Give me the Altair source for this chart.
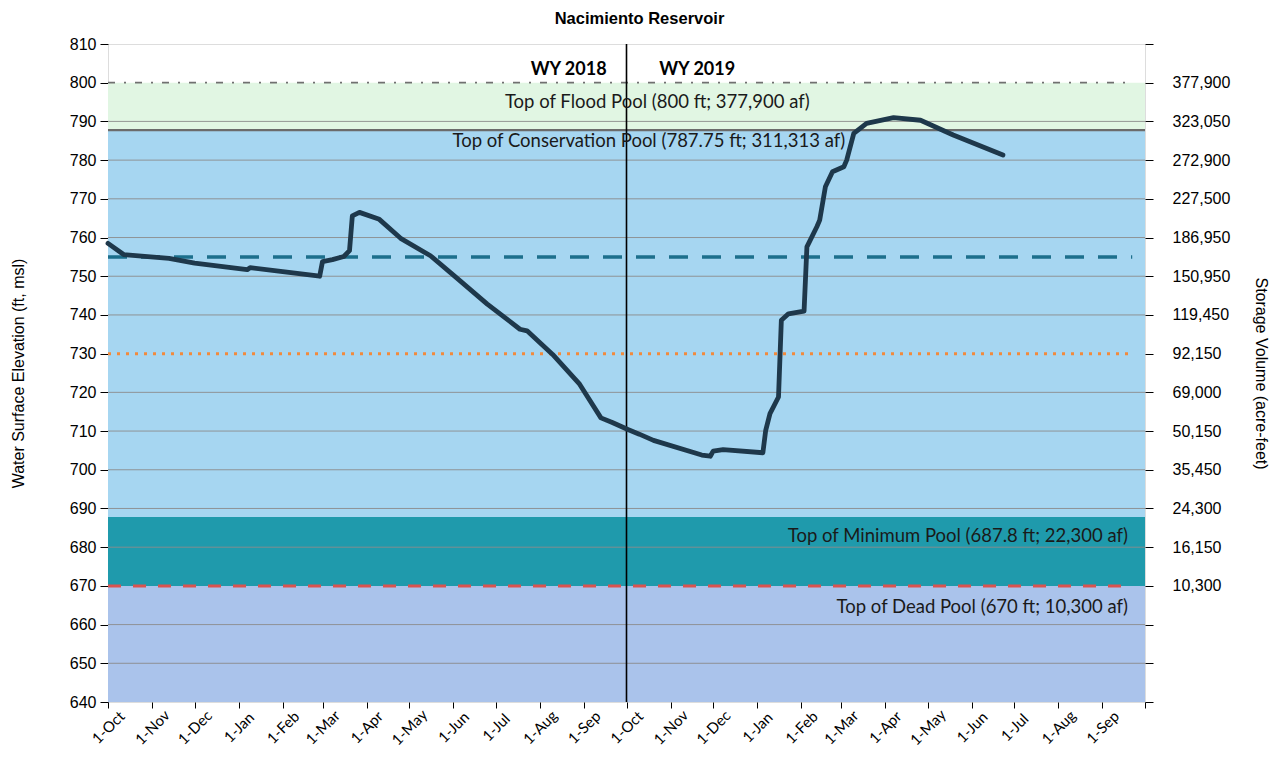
import altair as alt
import pandas as pd

# ---------------- data ----------------
chart_title = "Nacimiento Reservoir"

obs_dates = [
    "2017-10-01", "2017-10-12", "2017-11-13", "2017-12-01", "2018-01-07", "2018-01-09",
    "2018-02-01", "2018-02-27", "2018-03-01", "2018-03-08", "2018-03-16", "2018-03-20",
    "2018-03-22", "2018-03-27", "2018-04-10", "2018-04-25", "2018-05-16", "2018-06-03",
    "2018-06-25", "2018-07-18", "2018-07-23", "2018-08-10", "2018-08-29", "2018-09-13",
    "2018-09-21", "2018-10-02", "2018-10-10", "2018-10-20", "2018-11-23", "2018-11-29",
    "2018-12-01", "2018-12-08", "2019-01-05", "2019-01-07", "2019-01-10", "2019-01-16",
    "2019-01-18", "2019-01-23", "2019-02-03", "2019-02-05", "2019-02-12", "2019-02-14",
    "2019-02-18", "2019-02-23", "2019-03-03", "2019-03-05", "2019-03-10", "2019-03-19",
    "2019-04-07", "2019-04-26", "2019-05-19", "2019-06-23",
]
obs_elev = [
    758.5, 755.6, 754.6, 753.4, 751.7, 752.2,
    751.2, 750.0, 753.8, 754.3, 755.1, 756.6,
    765.6, 766.5, 764.7, 759.8, 755.3, 749.7,
    742.8, 736.3, 735.9, 729.8, 722.1, 713.4,
    712.2, 710.4, 709.2, 707.6, 703.8, 703.5,
    704.8, 705.2, 704.4, 710.2, 714.5, 718.8,
    738.6, 740.3, 741.0, 757.6, 762.8, 764.5,
    773.1, 777.0, 778.3, 780.0, 786.9, 789.5,
    791.0, 790.3, 786.5, 781.3,
]

domain_start = "2017-10-01"
domain_end = "2019-10-01"
wy_split = "2018-10-01"
ref_line_end = "2019-09-22"

band_names = ["Dead Pool", "Minimum Pool", "Conservation Pool", "Flood Pool"]
band_bottom = [640, 670, 687.8, 787.75]
band_top = [670, 687.8, 787.75, 800]
band_colors = ["#aac3eb", "#1f9aac", "#a6d6f1", "#e1f6e3"]

grid_levels = [650, 660, 680, 690, 700, 710, 720, 740, 750, 760, 770, 780, 790]
left_ticks = [640, 650, 660, 670, 680, 690, 700, 710, 720, 730, 740, 750, 760, 770, 780, 790, 800, 810]
right_tick_elev = [800, 790, 780, 770, 760, 750, 740, 730, 720, 710, 700, 690, 680, 670]
right_tick_storage = ["377,900", "323,050", "272,900", "227,500", "186,950", "150,950", "119,450",
                      "92,150", "69,000", "50,150", "35,450", "24,300", "16,150", "10,300"]

x_tick_dates = [
    "2017-10-01", "2017-11-01", "2017-12-01", "2018-01-01", "2018-02-01", "2018-03-01",
    "2018-04-01", "2018-05-01", "2018-06-01", "2018-07-01", "2018-08-01", "2018-09-01",
    "2018-10-01", "2018-11-01", "2018-12-01", "2019-01-01", "2019-02-01", "2019-03-01",
    "2019-04-01", "2019-05-01", "2019-06-01", "2019-07-01", "2019-08-01", "2019-09-01",
    "2019-10-01",
]

flood_top = 800
conservation_top = 787.75
target_level = 755
orange_level = 730
dead_top = 670

pool_label_text = ["Top of Flood Pool (800 ft; 377,900 af)",
                   "Top of Conservation Pool (787.75 ft; 311,313 af)",
                   "Top of Minimum Pool (687.8 ft; 22,300 af)",
                   "Top of Dead Pool (670 ft; 10,300 af)"]
pool_label_date = ["2019-02-07", "2019-03-04", "2019-09-19", "2019-09-19"]
pool_label_elev = [795, 785, 683, 664.5]

wy_label_text = ["WY 2018", "WY 2019"]
wy_label_date = ["2018-09-17", "2018-10-24"]
wy_label_elev = [803.2, 803.2]

# ---------------- helpers ----------------
def dt(s):
    y, m, d = (int(v) for v in s.split("-"))
    return alt.DateTime(year=y, month=m, date=d, utc=True)

xscale = alt.Scale(type="utc", domain=[dt(domain_start), dt(domain_end)])
yscale = alt.Scale(domain=[640, 810], nice=False, zero=False)

xaxis = alt.Axis(
    title=None, values=[dt(s) for s in x_tick_dates], format="%-d-%b",
    labelExpr="datum.index >= 1 ? '' : datum.label",
    labelAngle=-45, labelAlign="center", labelBaseline="middle",
    labelPadding=19, tickSize=6, tickColor="black", domain=False, grid=False,
    labelFont="Lato", labelFontSize=15, labelColor="black",
    labelOverlap=False, labelFlush=False, labelBound=False,
)

def X(field):
    return alt.X(f"{field}:T", scale=xscale, axis=xaxis)

left_axis = alt.Axis(
    title="Water Surface Elevation (ft, msl)", values=left_ticks, orient="left",
    grid=False, domain=False, tickSize=8, tickColor="black", labelPadding=4,
    labelFont="Liberation Sans", labelFontSize=16, labelColor="black", labelFlush=False,
    titleFont="Liberation Sans", titleFontSize=16, titleFontWeight="normal",
    titlePadding=43, titleColor="black",
)

right_expr = " : ".join(f"datum.value == {e} ? '{s}'" for e, s in zip(right_tick_elev, right_tick_storage)) + " : ''"
right_axis = alt.Axis(
    title="Storage Volume (acre-feet)", values=left_ticks, orient="right",
    grid=False, domain=False, tickSize=8, tickColor="black", labelPadding=19,
    labelExpr=right_expr, labelFlush=False,
    labelFont="Liberation Sans", labelFontSize=16, labelColor="black",
    titleFont="Liberation Sans", titleFontSize=16, titleFontWeight="normal",
    titlePadding=23, titleColor="black",
)

# ---------------- frames ----------------
bands_df = pd.DataFrame({
    "name": band_names, "y0": band_bottom, "y1": band_top, "color": band_colors,
    "x0": [domain_start] * 4, "x1": [domain_end] * 4,
})
grid_df = pd.DataFrame({"level": grid_levels})
line_df = pd.DataFrame({"date": obs_dates, "elev": obs_elev})
pool_df = pd.DataFrame({"text": pool_label_text, "date": pool_label_date, "elev": pool_label_elev})
wy_df = pd.DataFrame({"text": wy_label_text, "date": wy_label_date, "elev": wy_label_elev})


def hline(level, color, width, dash=None, end=ref_line_end):
    df = pd.DataFrame({"level": [level], "x0": [domain_start], "x1": [end]})
    kw = dict(color=color, strokeWidth=width)
    if dash:
        kw["strokeDash"] = dash
    return alt.Chart(df).mark_rule(**kw).encode(
        x=X("x0"), x2="x1:T",
        y=alt.Y("level:Q", scale=yscale, axis=None),
    )

bands = alt.Chart(bands_df).mark_rect().encode(
    x=X("x0"), x2="x1:T",
    y=alt.Y("y0:Q", scale=yscale, axis=left_axis), y2="y1:Q",
    color=alt.Color("color:N", scale=None),
)

grid = alt.Chart(grid_df).mark_rule(color="#8c8c8c", strokeWidth=1, opacity=0.9).encode(
    y=alt.Y("level:Q", scale=yscale, axis=right_axis),
)

cons_line = hline(conservation_top, "#6b6b6b", 2.2, end=domain_end)
flood_line = hline(flood_top, "#707070", 1.8, dash=[7, 9, 2, 9])
target_line = hline(target_level, "#1c6f8c", 3.5, dash=[19, 14])
orange_line = hline(orange_level, "#f28a3c", 3, dash=[3, 6])
dead_line = hline(dead_top, "#d9534f", 3, dash=[13, 12])

wy_df_rule = pd.DataFrame({"date": [wy_split]})
wy_rule = alt.Chart(wy_df_rule).mark_rule(color="black", strokeWidth=1.6).encode(x=X("date"))

elev_line = alt.Chart(line_df).mark_line(
    color="#1e384b", strokeWidth=4.8, strokeJoin="round", strokeCap="round"
).encode(
    x=X("date"), y=alt.Y("elev:Q", scale=yscale, axis=None),
)

pool_text = alt.Chart(pool_df).mark_text(
    align="right", baseline="middle", font="Lato", fontSize=18.5, color="#1a1a1a"
).encode(
    x=X("date"), y=alt.Y("elev:Q", scale=yscale, axis=None), text="text:N",
)

wy18 = alt.Chart(wy_df.iloc[[0]]).mark_text(
    align="right", baseline="middle", font="Lato", fontSize=18, fontWeight="bold", color="black"
).encode(x=X("date"), y=alt.Y("elev:Q", scale=yscale, axis=None), text="text:N")

wy19 = alt.Chart(wy_df.iloc[[1]]).mark_text(
    align="left", baseline="middle", font="Lato", fontSize=18, fontWeight="bold", color="black"
).encode(x=X("date"), y=alt.Y("elev:Q", scale=yscale, axis=None), text="text:N")

chart = alt.layer(
    bands, grid, cons_line, flood_line, target_line, orange_line, dead_line,
    wy_rule, elev_line, pool_text, wy18, wy19,
).resolve_scale(y="independent").properties(
    width=1037, height=658,
    title=alt.TitleParams(chart_title, font="Liberation Sans", fontSize=16.5,
                          fontWeight="bold", anchor="middle", dx=13, offset=9, color="black"),
    autosize=alt.AutoSizeParams(type="none"),
    padding={"left": 100, "top": 36, "right": 126, "bottom": 60},
).configure_view(stroke="black", strokeWidth=1.5).configure(background="white")

chart.save("out.html", embed_options={"renderer": "svg", "actions": False})
